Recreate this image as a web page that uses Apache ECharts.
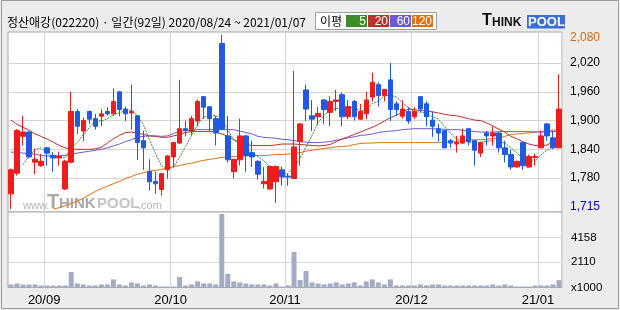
<!DOCTYPE html>
<html><head><meta charset="utf-8">
<script src="https://cdn.jsdelivr.net/npm/echarts@6/dist/echarts.min.js"></script>
<style>html,body{margin:0;padding:0;background:#ececec}#c{width:620px;height:310px}</style>
</head><body><div id="c"></div>
<script>
const dates = ['20/08/24','20/08/25','20/08/26','20/08/27','20/08/28','20/08/31',
'20/09/01','20/09/02','20/09/03','20/09/04','20/09/07','20/09/08','20/09/09','20/09/10','20/09/11','20/09/14','20/09/15','20/09/16','20/09/17','20/09/18','20/09/21','20/09/22','20/09/23','20/09/24','20/09/25','20/09/28','20/09/29',
'20/10/05','20/10/06','20/10/07','20/10/08','20/10/12','20/10/13','20/10/14','20/10/15','20/10/16','20/10/19','20/10/20','20/10/21','20/10/22','20/10/23','20/10/26','20/10/27','20/10/28','20/10/29','20/10/30',
'20/11/02','20/11/03','20/11/04','20/11/05','20/11/06','20/11/09','20/11/10','20/11/11','20/11/12','20/11/13','20/11/16','20/11/17','20/11/18','20/11/19','20/11/20','20/11/23','20/11/24','20/11/25','20/11/26','20/11/27','20/11/30',
'20/12/01','20/12/02','20/12/03','20/12/04','20/12/07','20/12/08','20/12/09','20/12/10','20/12/11','20/12/14','20/12/15','20/12/16','20/12/17','20/12/18','20/12/21','20/12/22','20/12/23','20/12/24','20/12/28','20/12/29','20/12/30',
'21/01/04','21/01/05','21/01/06','21/01/07'];

const opens = [1747,1790,1867,1876,1813,1806,1843,1827,1822,1757,
1813,1919,1878,1919,1904,1909,1919,1914,1960,1924,
1916,1910,1858,1794,1773,1756,1797,1824,1853,1883,
1878,1899,1950,1929,1904,2061,1868,1793,1818,1868,
1833,1815,1768,1757,1772,1797,1784,1779,1856,1964,
1910,1908,1943,1917,1940,1954,1908,1940,1903,1914,
1949,1975,1952,1985,1935,1909,1919,1908,1950,1935,
1901,1883,1879,1858,1851,1853,1883,1858,1832,1874,
1868,1874,1843,1829,1803,1854,1803,1823,1843,1893,
1864,1843];
const closes = [1797,1879,1876,1824,1819,1815,1832,1822,1826,1815,
1919,1888,1900,1903,1888,1914,1914,1940,1923,1914,
1919,1854,1843,1772,1768,1789,1826,1854,1883,1879,
1904,1940,1928,1904,1874,1882,1818,1819,1868,1827,
1824,1788,1773,1804,1804,1782,1782,1845,1893,1924,
1903,1915,1923,1940,1943,1908,1929,1908,1919,1943,
1980,1952,1965,1923,1923,1924,1899,1919,1924,1908,
1888,1874,1843,1853,1854,1868,1856,1838,1854,1868,
1874,1843,1829,1803,1815,1806,1825,1825,1868,1868,
1843,1924];
const lows = [1715,1785,1848,1822,1788,1803,1806,1793,1806,1755,
1811,1872,1857,1893,1881,1888,1910,1910,1909,1899,
1881,1818,1797,1754,1747,1743,1779,1803,1851,1867,
1869,1888,1904,1878,1848,1880,1812,1779,1806,1793,
1803,1777,1758,1756,1728,1764,1764,1779,1806,1899,
1878,1890,1892,1888,1920,1888,1903,1900,1901,1903,
1940,1929,1940,1899,1909,1904,1893,1903,1917,1888,
1866,1856,1842,1843,1833,1851,1848,1806,1824,1848,
1848,1833,1813,1797,1802,1797,1802,1806,1842,1858,
1840,1842];
const highs = [1800,1882,1910,1878,1841,1830,1845,1834,1835,1818,
1960,1924,1906,1921,1914,1924,1928,1967,1961,1929,
1975,1912,1879,1819,1793,1791,1828,1856,1985,1900,
1910,1944,1951,1930,1910,2079,1910,1820,1904,1870,
1858,1817,1803,1806,1806,1804,1789,2004,1895,1975,
1943,1929,1945,1951,1964,1959,1943,1943,1935,1960,
2000,1980,1966,2020,1940,1943,1928,1928,1951,1940,
1919,1893,1880,1862,1868,1883,1885,1860,1856,1879,
1888,1876,1858,1839,1816,1855,1829,1831,1879,1895,
1879,1997];

const ma5 = [null,null,1808,1826,1839,1843,1833,1822,1823,1822,
1843,1854,1870,1885,1900,1899,1904,1912,1916,1921,
1922,1910,1891,1860,1831,1805,1800,1802,1824,1846,
1869,1892,1907,1911,1910,1906,1881,1859,1852,1843,
1831,1825,1816,1803,1799,1790,1789,1803,1821,1845,
1869,1896,1912,1921,1925,1926,1929,1926,1921,1921,
1936,1940,1952,1953,1949,1937,1927,1918,1918,1915,
1908,1903,1887,1873,1862,1858,1855,1854,1854,1857,
1858,1855,1854,1843,1833,1819,1816,1815,1828,1838,
1846,1866];
const ma20 = [1901,1892,1886,1880,1872,1867,1861,1855,1848,1843,
1840,1840,1840,1840,1841,1844,1853,1862,1869,1875,
1876,1874,1871,1868,1867,1865,1865,1868,1871,1875,
1877,1877,1877,1877,1876,1872,1867,1860,1855,1850,
1848,1848,1848,1848,1849,1851,1851,1851,1850,1849,
1848,1847,1848,1850,1856,1862,1866,1871,1876,1881,
1886,1892,1899,1906,1911,1917,1924,1923,1921,1920,
1918,1916,1913,1911,1910,1907,1904,1901,1900,1895,
1889,1882,1876,1867,1862,1856,1851,1848,1847,1849,
1855,1858];
const ma60 = [1834,1834,1832,1831,1830,1827,1826,1825,1826,1827,
1830,1832,1834,1836,1838,1840,1843,1847,1851,1856,
1860,1865,1867,1868,1868,1867,1868,1873,1878,1879,
1880,1881,1881,1881,1881,1881,1881,1881,1878,1875,
1872,1867,1865,1864,1863,1861,1860,1858,1856,1855,
1854,1854,1855,1856,1859,1861,1864,1866,1869,1870,
1872,1875,1877,1878,1879,1881,1882,1883,1883,1883,
1883,1882,1882,1881,1881,1880,1878,1877,1876,1876,
1876,1877,1877,1877,1877,1877,1877,1876,1876,1876,
1877,1878];
const ma120 = [null,null,null,null,null,null,null,1715,1718,1722,
1727,1732,1738,1745,1752,1758,1763,1768,1773,1779,
1783,1788,1791,1794,1796,1798,1801,1804,1806,1809,
1811,1814,1817,1819,1821,1823,1824,1825,1825,1826,
1827,1827,1827,1828,1829,1829,1830,1831,1833,1836,
1838,1840,1842,1843,1845,1846,1847,1850,1852,1853,
1853,1854,1854,1854,1854,1854,1854,1854,1854,1854,
1854,1854,1855,1856,1856,1858,1859,1860,1860,1861,
1862,1863,1867,1871,1872,1873,1874,1876,1877,1879,
1880,1881];
const volumes = [253,337,253,253,253,169,169,169,169,169,
1293,337,253,169,169,253,253,674,253,169,
422,337,169,253,169,84,84,84,871,169,
253,506,337,337,253,6120,1124,506,422,337,
253,253,253,169,337,84,169,2970,618,1377,
422,337,253,337,422,253,337,422,169,506,
674,422,253,674,169,169,169,169,253,169,
253,253,169,169,169,169,169,169,169,169,
253,169,253,169,84,84,84,169,169,169,
253,618];

const priceTicks = [1715,1780,1840,1900,1960,2020,2080];
const priceGrid = [1780,1840,1900,1960,2020];
const priceHigh = 2080, priceLow = 1715;
const volTicks = [0,2110,4158];
const volGrid = [2110,4158];
const titleText = '정산애강(022220) · 일간(92일) 2020/08/24 ~ 2021/01/07';
const maNames = ['5','20','60','120'];
const maColors = ['#3c8c28','#c0302a','#6a5ad6','#e07010'];

const ohlc = dates.map((d,i)=>[opens[i],closes[i],lows[i],highs[i]]);
const isMonthStart = (i)=> i>0 && dates[i].slice(0,5)!==dates[i-1].slice(0,5);
const fmt = v => String(v).replace(/\B(?=(\d{3})+(?!\d))/g, ',');

const chart = echarts.init(document.getElementById('c'), null, {renderer:'canvas'});
const LAT = "'Liberation Sans', Arial, sans-serif";

const legendEls = [];
legendEls.push({type:'rect', shape:{x:315.5,y:12.5,width:121,height:17}, style:{fill:'#fff', stroke:'#a0a0a0', lineWidth:1}});
legendEls.push({type:'text', x:320, y:21.5, style:{text:'이평', fill:'#000', font:'12px "Noto Sans CJK KR"', verticalAlign:'middle'}});
const boxX = [346,368,390,412];
maNames.forEach((n,k)=>{
  legendEls.push({type:'rect', shape:{x:boxX[k],y:15,width:21,height:12}, style:{fill:maColors[k]}});
  legendEls.push({type:'text', x:boxX[k]+20, y:21.5, style:{text:n, fill:'#fff', font:'12px '+LAT, align:'right', verticalAlign:'middle'}});
});

chart.setOption({
  animation:false,
  backgroundColor:'#ececec',
  textStyle:{fontFamily:LAT},
  title:{text:titleText, left:7, top:16, padding:0,
    textStyle:{fontSize:12, fontWeight:'normal', color:'#000', fontFamily:'"Noto Sans CJK KR"'}},
  grid:[
    {left:8, right:58, top:32, height:180, show:true, backgroundColor:'#fff', borderColor:'#a8a8a8', borderWidth:1, z:0},
    {left:8, right:58, top:212, height:75.5, show:true, backgroundColor:'#fff', borderColor:'#a8a8a8', borderWidth:1, z:0}
  ],
  xAxis:[
    {type:'category', gridIndex:0, data:dates, boundaryGap:true,
     axisLine:{show:false}, axisTick:{show:false}, axisLabel:{show:false},
     splitLine:{show:true, interval:(i)=>isMonthStart(i), lineStyle:{color:'#d6d6d6', width:1}}},
    {type:'category', gridIndex:1, data:dates, boundaryGap:true,
     axisLine:{show:false}, axisTick:{show:false},
     axisLabel:{show:true, interval:(i)=>isMonthStart(i), formatter:(v)=>v.slice(0,5),
       fontSize:13, color:'#000', margin:6, padding:[0,6,0,0], fontFamily:LAT},
     splitLine:{show:true, interval:(i)=>isMonthStart(i), lineStyle:{color:'#d6d6d6', width:1}}}
  ],
  yAxis:[
    {type:'value', gridIndex:0, position:'right', min:1709, max:2085,
     axisLine:{show:false}, axisTick:{show:false, customValues:priceGrid},
     splitLine:{show:true, lineStyle:{color:'#d6d6d6', width:1}},
     axisLabel:{customValues:priceTicks, margin:8, fontSize:12, color:'#000', fontFamily:LAT,
       formatter:(v)=> v===priceHigh ? '{hi|'+fmt(v)+'}' : v===priceLow ? '{lo|'+fmt(v)+'}' : fmt(v),
       rich:{hi:{color:'#d06a10', fontSize:12, padding:[6,0,0,0]}, lo:{color:'#0000c8', fontSize:12, padding:[0,0,5,0]}}}},
    {type:'value', gridIndex:1, position:'right', min:0, max:6290,
     axisLine:{show:false}, axisTick:{show:false, customValues:volGrid},
     splitLine:{show:true, lineStyle:{color:'#d6d6d6', width:1}},
     axisLabel:{customValues:volTicks, margin:9, fontSize:11.5, color:'#000', fontFamily:LAT,
       formatter:(v)=> v===0 ? 'x1000' : String(v)}}
  ],
  graphic:[
    {type:'rect', shape:{x:1.5,y:0.5,width:617,height:308}, style:{fill:'none', stroke:'#9c9c9c', lineWidth:1}, z:0},
    {type:'text', x:23, y:211, z:1, style:{text:'www.', fill:'#b4b4b4', font:'11px '+LAT, verticalAlign:'bottom'}},
    {type:'text', x:47, y:212, z:1, style:{text:'T', fill:'#a9a9a9', font:'bold 20px '+LAT, verticalAlign:'bottom'}},
    {type:'text', x:59, y:211, z:1, style:{text:'HINK', fill:'#a9a9a9', font:'bold 15px '+LAT, verticalAlign:'bottom'}},
    {type:'text', x:97, y:211, z:1, style:{text:'POOL', fill:'#c4c4c4', font:'bold 15px '+LAT, verticalAlign:'bottom'}},
    {type:'text', x:138, y:211, z:1, style:{text:'.com', fill:'#b4b4b4', font:'11px '+LAT, verticalAlign:'bottom'}},
    {type:'rect', shape:{x:527,y:15,width:38,height:13.5}, style:{fill:'#3b6fd8'}, z:5},
    {type:'text', x:482, y:28.5, z:6, style:{text:'T', fill:'#111', font:'bold 16px '+LAT, verticalAlign:'bottom'}},
    {type:'text', x:492, y:28.5, z:6, style:{text:'HINK', fill:'#111', font:'bold 12px '+LAT, verticalAlign:'bottom'}},
    {type:'text', x:528, y:28.5, z:6, style:{text:'POOL', fill:'#fff', font:'bold 13px '+LAT, verticalAlign:'bottom'}},
    {type:'group', z:5, children:legendEls}
  ],
  series:[
    {type:'line', name:'MA120', xAxisIndex:0, yAxisIndex:0, data:ma120, symbol:'none', z:2,
     lineStyle:{color:maColors[3], width:1}},
    {type:'line', name:'MA60', xAxisIndex:0, yAxisIndex:0, data:ma60, symbol:'none', z:2,
     lineStyle:{color:maColors[2], width:1}},
    {type:'line', name:'MA20', xAxisIndex:0, yAxisIndex:0, data:ma20, symbol:'none', z:2,
     lineStyle:{color:maColors[1], width:1}},
    {type:'line', name:'MA5', xAxisIndex:0, yAxisIndex:0, data:ma5, symbol:'none', z:2,
     lineStyle:{color:maColors[0], width:1, type:[2,1]}},
    {type:'candlestick', xAxisIndex:0, yAxisIndex:0, data:ohlc, barWidth:5, z:3,
     itemStyle:{color:'#ee1c1c', color0:'#1f5ae0', borderColor:'#ee1c1c', borderColor0:'#1f5ae0', borderWidth:1}},
    {type:'bar', xAxisIndex:1, yAxisIndex:1, data:volumes, barWidth:5, z:2,
     itemStyle:{color:'#a3abc5'}}
  ]
});
</script>
</body></html>
